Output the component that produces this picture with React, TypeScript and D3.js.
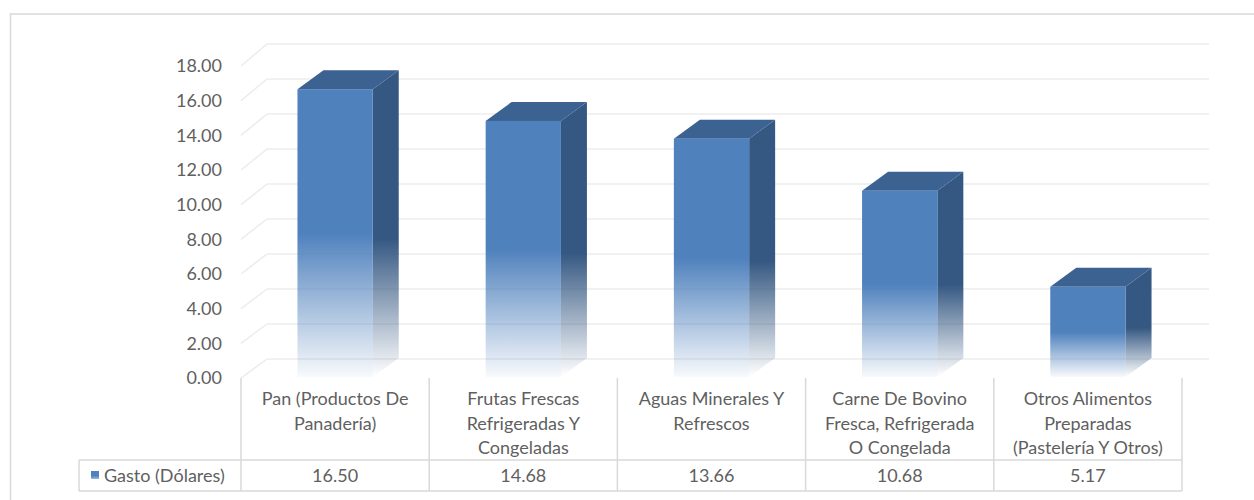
import React from "react";
import * as d3 from "d3";

const categoryLines: string[][] = [
  ["Pan (Productos De", "Panadería)"],
  ["Frutas Frescas", "Refrigeradas Y", "Congeladas"],
  ["Aguas Minerales Y", "Refrescos"],
  ["Carne De Bovino", "Fresca, Refrigerada", "O Congelada"],
  ["Otros Alimentos", "Preparadas", "(Pastelería Y Otros)"],
];
const categories: string[] = categoryLines.map((l) => l.join(" "));
const values: number[] = [16.5, 14.68, 13.66, 10.68, 5.17];
const valueLabels: string[] = ["16.50", "14.68", "13.66", "10.68", "5.17"];
const yTicks: number[] = [0, 2, 4, 6, 8, 10, 12, 14, 16, 18];
const seriesName = "Gasto (Dólares)";

const W = 1254;
const H = 500;
const FONT = "Lato, 'Open Sans', sans-serif";
const TEXT = "#5f5f5f";
const GRID = "#ececec";
const TABLE = "#d9d9d9";

export default function App() {
  const x = d3.scaleBand<string>().domain(categories).range([241, 1182]);
  const yFront = d3.scaleLinear().domain([0, 18]).range([378, 66]);
  const yBack = d3.scaleLinear().domain([0, 18]).range([359, 44]);
  const yBar = d3.scaleLinear().domain([0, 18]).range([377, 63]);
  const depthX = 26;
  const depthY = -19;
  const bw = x.bandwidth();
  const barW = bw * 0.4;
  const backLeft = 241 + depthX;
  const backRight = 1209;
  const tableLeft = 79;
  const rowTop = 460;
  const rowBottom = 491;
  const floorFront = 378;
  const fs = 18;
  const lineH = 24.5;

  return (
    <svg
      width={W}
      height={H}
      style={{ position: "absolute", left: 0, top: 0, background: "#fff" }}
      fontFamily={FONT}
    >
      <defs>
        <linearGradient id="gFront" x1="0" y1="0" x2="0" y2="1">
          <stop offset="0" stopColor="#4F81BD" />
          <stop offset="0.5" stopColor="#4F81BD" />
          <stop offset="1" stopColor="#4F81BD" stopOpacity="0.04" />
        </linearGradient>
        <linearGradient id="gSide" x1="0" y1="0" x2="0" y2="1">
          <stop offset="0" stopColor="#355882" />
          <stop offset="0.55" stopColor="#355882" />
          <stop offset="1" stopColor="#355882" stopOpacity="0.0" />
        </linearGradient>
        <linearGradient id="gSwatch" x1="0" y1="0" x2="0" y2="1">
          <stop offset="0" stopColor="#4F81BD" />
          <stop offset="0.6" stopColor="#4F81BD" />
          <stop offset="1" stopColor="#9db8da" />
        </linearGradient>
      </defs>
      <rect x={0} y={0} width={W} height={H} fill="#fff" />
      {/* outer chart border */}
      <rect x={10.5} y={14} width={W + 20} height={H + 20} fill="none" stroke="#d9d9d9" strokeWidth={1.5} />

      {/* back wall gridlines and side wall diagonals */}
      {yTicks.map((t) => (
        <g key={"g" + t}>
          <line x1={backLeft} x2={backRight} y1={yBack(t)} y2={yBack(t)} stroke={GRID} strokeWidth={1.5} />
          <line x1={241} y1={yFront(t)} x2={backLeft} y2={yBack(t)} stroke={GRID} strokeWidth={1.5} />
        </g>
      ))}

      {/* y axis labels */}
      {yTicks.map((t) => (
        <text
          key={"t" + t}
          x={222}
          y={yFront(t)}
          dy="0.35em"
          textAnchor="end"
          fontSize={fs}
          fill={TEXT}
        >
          {t.toFixed(2)}
        </text>
      ))}

      {/* bars */}
      {categories.map((c, i) => {
        const cx = (x(c) as number) + bw / 2;
        const x0 = cx - barW / 2;
        const x1 = cx + barW / 2;
        const yt = yBar(values[i]);
        const yb = yBar(0);
        const side = [
          [x1, yb],
          [x1 + depthX, yb + depthY],
          [x1 + depthX, yt + depthY],
          [x1, yt],
        ];
        const top = [
          [x0, yt],
          [x1, yt],
          [x1 + depthX, yt + depthY],
          [x0 + depthX, yt + depthY],
        ];
        const toPts = (p: number[][]) => p.map((q) => q.join(",")).join(" ");
        return (
          <g key={"b" + i}>
            <polygon points={toPts(side)} fill="url(#gSide)" />
            <polygon points={toPts(top)} fill="#3b6291" />
            <rect x={x0} y={yt} width={barW} height={yb - yt} fill="url(#gFront)" />
          </g>
        );
      })}

      {/* data table */}
      {categories.map((c, i) => (
        <line
          key={"v" + i}
          x1={x(c) as number}
          x2={x(c) as number}
          y1={floorFront}
          y2={rowBottom}
          stroke={TABLE}
          strokeWidth={1.5}
        />
      ))}
      <line x1={1182} x2={1182} y1={floorFront} y2={rowBottom} stroke={TABLE} strokeWidth={1.5} />
      <line x1={tableLeft} x2={tableLeft} y1={rowTop} y2={rowBottom} stroke={TABLE} strokeWidth={1.5} />
      <line x1={tableLeft} x2={1182} y1={rowTop} y2={rowTop} stroke={TABLE} strokeWidth={1.5} />
      <line x1={tableLeft} x2={1182} y1={rowBottom} y2={rowBottom} stroke={TABLE} strokeWidth={1.5} />

      {categoryLines.map((lines, i) => (
        <text
          key={"c" + i}
          textAnchor="middle"
          fontSize={fs}
          fill={TEXT}
        >
          {lines.map((ln, j) => (
            <tspan key={j} x={(x(categories[i]) as number) + bw / 2} y={405 + j * lineH}>
              {ln}
            </tspan>
          ))}
        </text>
      ))}

      <rect x={91} y={471} width={8} height={8} fill="url(#gSwatch)" />
      <text x={104} y={482} fontSize={fs} fill={TEXT}>
        {seriesName}
      </text>
      {categories.map((c, i) => (
        <text
          key={"val" + i}
          x={(x(c) as number) + bw / 2}
          y={482}
          textAnchor="middle"
          fontSize={fs}
          fill={TEXT}
        >
          {valueLabels[i]}
        </text>
      ))}
    </svg>
  );
}
